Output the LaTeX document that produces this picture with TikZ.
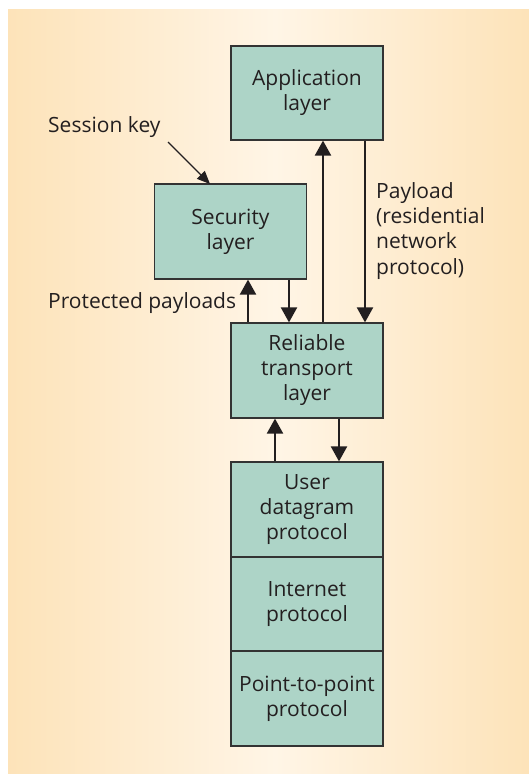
\documentclass[tikz,border=0pt]{standalone}
\usepackage{fontspec}
\setmainfont{Open Sans}
\usetikzlibrary{arrows.meta,shadings}
\definecolor{boxfill}{HTML}{ADD4C7}
\definecolor{boxline}{HTML}{333333}
\definecolor{bgedge}{HTML}{FDE3B9}
\definecolor{bgmid}{HTML}{FFF5E6}
\definecolor{ink}{HTML}{231F20}
\tikzset{
  layerbox/.style={draw=boxline, line width=1.2pt, fill=boxfill, minimum width=152pt, inner sep=0pt, align=center, font=\fontsize{21}{25}\selectfont, text=ink},
  lbl/.style={font=\fontsize{21}{25.3}\selectfont, text=ink, inner sep=0pt},
  thick arrow/.style={draw=ink, line width=2.2pt, -{Triangle[length=15pt,width=16pt]}},
  thin arrow/.style={draw=ink, line width=1.1pt, -{Triangle[length=13pt,width=11pt]}}
}
\begin{document}
\begin{tikzpicture}[x=1pt,y=-1pt]
\useasboundingbox (0,0) rectangle (529,774);
\fill[white] (0,0) rectangle (529,774);
\shade[left color=bgedge, right color=bgmid, shading=axis] (8,9) rectangle (275,774);
\shade[left color=bgmid, right color=bgedge, shading=axis] (275,9) rectangle (529,774);
% boxes
\node[layerbox, minimum height=94pt] (app) at (307,93) {Application\\layer};
\node[layerbox, minimum height=95pt] (sec) at (230.5,231.5) {Security\\layer};
\node[layerbox, minimum height=95pt] (rel) at (307,370.5) {Reliable\\transport\\layer};
\node[layerbox, minimum height=95pt] (udp) at (307,509.5) {User\\datagram\\protocol};
\node[layerbox, minimum height=94pt] (ip) at (307,604) {Internet\\protocol};
\node[layerbox, minimum height=95pt] (ppp) at (307,698.5) {Point-to-point\\protocol};
% labels
\node[lbl, anchor=west] (sk) at (48,127) {Session key};
\node[lbl, anchor=west] (pp) at (48,303) {Protected payloads};
\node[lbl, anchor=north west, align=left] (pl) at (376,182) {Payload\\(residential\\network\\protocol)};
\coordinate (skstart) at (168,142);
\coordinate (skend) at (210,184);
% connectors
\draw[thin arrow] (skstart) -- (skend);
\draw[thick arrow] (rel.north -| 323,0) -- (app.south -| 323,0);
\draw[thick arrow] (app.south -| 365,0) -- (rel.north -| 365,0);
\draw[thick arrow] (rel.north -| 248,0) -- (sec.south -| 248,0);
\draw[thick arrow] (sec.south -| 289,0) -- (rel.north -| 289,0);
\draw[thick arrow] (udp.north -| 275,0) -- (rel.south -| 275,0);
\draw[thick arrow] (rel.south -| 339,0) -- (udp.north -| 339,0);
\end{tikzpicture}
\end{document}
